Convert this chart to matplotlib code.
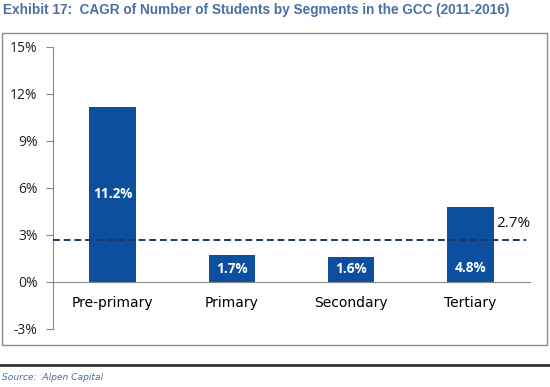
import matplotlib.pyplot as plt
import matplotlib.patches as mpatches
from matplotlib.lines import Line2D

categories = ["Pre-primary", "Primary", "Secondary", "Tertiary"]
values = [11.2, 1.7, 1.6, 4.8]
average = 2.7
yticks = [-3, 0, 3, 6, 9, 12, 15]

# layout: vertical position of value labels inside bars (data units)
label_pos = [5.6, 0.85, 0.8, 0.9]

fig = plt.figure(figsize=(5.5, 3.87), dpi=100)
ax = fig.add_axes([0.0964, 0.1499, 0.867, 0.7287])

bar_color = "#0c4f9e"
ax.bar(range(len(categories)), values, width=0.39, color=bar_color, zorder=2)
ax.set_xlim(-0.5, 3.5)
ax.set_ylim(-3, 15)
ax.set_yticks(yticks)
ax.set_yticklabels([f"{t}%" for t in yticks], fontsize=10, family="Open Sans", color="#222222")
ax.set_xticks(range(len(categories)))
ax.set_xticklabels(categories, fontsize=9.5, family="Open Sans", color="#222222")

for s in ["top", "right"]:
    ax.spines[s].set_visible(False)
ax.spines["bottom"].set_position(("data", 0))
ax.spines["bottom"].set_color("#888888")
ax.spines["left"].set_color("#888888")
ax.tick_params(axis="x", length=0, pad=10)
ax.tick_params(axis="y", direction="out", length=5, color="#888888", pad=6)

for i, (v, p) in enumerate(zip(values, label_pos)):
    ax.text(i, p, f"{v}%", ha="center", va="center", color="white",
            fontsize=9.8, fontweight="bold", family="Open Sans", zorder=3)

ax.plot([-0.5, 3.47], [average, average], ls=(0, (3.5, 2)), color="#1f3864",
        lw=1.4, zorder=3)
ax.text(3.22, average + 0.55, f"{average}%", ha="left", va="bottom", fontsize=11,
        family="Open Sans", color="#111111")

# chart frame
fig.patches.append(mpatches.Rectangle((0.0036, 0.1085), 0.9909, 0.8062,
                                      transform=fig.transFigure, fill=False,
                                      edgecolor="#8c8c8c", lw=1.0))
fig.text(0.006, 0.974, "Exhibit 17:  CAGR of Number of Students by Segments in the GCC (2011-2016)",
         ha="left", va="center", fontsize=9.85, fontweight="bold",
         family="Liberation Sans", color="#4a6fa5")
fig.lines.append(Line2D([0, 1], [1 - 365 / 387, 1 - 365 / 387], transform=fig.transFigure,
                        color="#333333", lw=2))
fig.text(0.004, 1 - 377 / 387, "Source:  Alpen Capital", ha="left", va="center",
         fontsize=6.6, style="italic", family="DejaVu Sans", color="#4a6fa5")

fig.savefig("out.png", dpi=100)
